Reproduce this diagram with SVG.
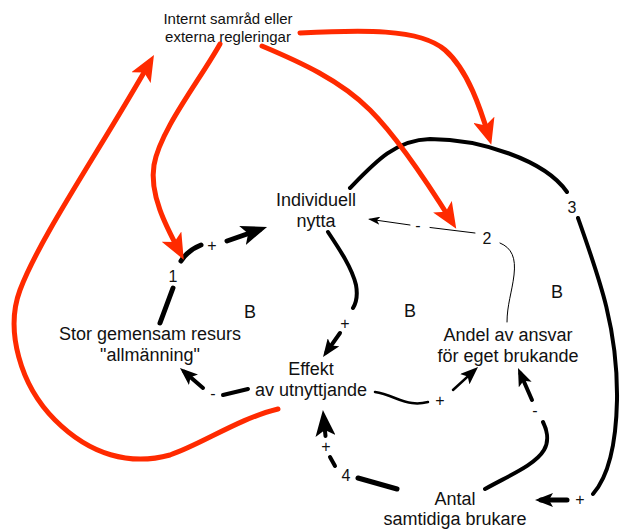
<svg xmlns="http://www.w3.org/2000/svg" width="620" height="530" viewBox="0 0 620 530">
<defs>
<style>
text{font-family:"Liberation Sans",Arial,Helvetica,sans-serif;fill:#111;text-anchor:middle}
.node text{font-size:18px}
.hdr text{font-size:15px}
.lbl{font-size:16px}
.b{font-size:18px}
.k{fill:none;stroke:#000;stroke-linecap:round}
.w5{stroke-width:5}
.w4{stroke-width:4}
.w3{stroke-width:2.5}
.w1{stroke-width:1}
.red{fill:none;stroke:#ff2a00;stroke-width:5;stroke-linecap:round}
</style>
<marker id="ab" markerUnits="userSpaceOnUse" markerWidth="26" markerHeight="20" viewBox="0 0 26 20" refX="18" refY="10" orient="auto"><path d="M0,0 L26,10 L0,20 L6,10 z" fill="#000"/></marker>
<marker id="am" markerUnits="userSpaceOnUse" markerWidth="18" markerHeight="14" viewBox="0 0 18 14" refX="12" refY="7" orient="auto"><path d="M0,0 L18,7 L0,14 L4,7 z" fill="#000"/></marker>
<marker id="as" markerUnits="userSpaceOnUse" markerWidth="12" markerHeight="8" viewBox="0 0 12 8" refX="10" refY="4" orient="auto"><path d="M0,0 L12,4 L0,8 L3,4 z" fill="#000"/></marker>
<marker id="ar" markerUnits="userSpaceOnUse" markerWidth="26" markerHeight="22" viewBox="0 0 26 22" refX="18" refY="11" orient="auto"><path d="M0,0 L26,11 L0,22 L6,11 z" fill="#ff2a00"/></marker>
</defs>
<rect width="620" height="530" fill="#fff"/>

<g id="connectors">
<!-- loop 1: Stor -> Individuell -->
<path class="k w5" d="M160,323 L173,288"/>
<path class="k w5" d="M181,261 Q188,250 201,245"/>
<path class="k w5" d="M227,241 L259.5,229.6" marker-end="url(#ab)"/>
<!-- Individuell -> Effekt -->
<path class="k w4" d="M328,232 C340,250 352,268 356,285 C358,296 356,303 353,308"/>
<path class="k w4" d="M340,333 L326.5,352.1" marker-end="url(#am)"/>
<!-- Effekt -> Stor -->
<path class="k w4" d="M248,389 L223,395"/>
<path class="k w4" d="M203,388 L184.5,371.9" marker-end="url(#am)"/>
<!-- Effekt -> Andel -->
<path class="k w3" d="M375,392 C390,394 400,402 412,403 C418,404 424,403 428,402"/>
<path class="k w3" d="M453,390 L473.6,371.1" marker-end="url(#am)"/>
<!-- Antal -> Effekt -->
<path class="k w5" d="M397,489 L358,478"/>
<path class="k w4" d="M335,466 L330,457"/>
<path class="k w4" d="M325.5,436 L323.7,418" marker-end="url(#ab)"/>
<!-- Antal -> Andel -->
<path class="k w4" d="M485,489 C510,475 535,465 544,450 C550,440 546,428 543,422"/>
<path class="k w4" d="M532,400 L520.4,373.5" marker-end="url(#am)"/>
<!-- loop 3: Individuell -> Antal -->
<path class="k w4" d="M350,188 C375,162 395,140 430,139 C480,139 545,160 567,192"/>
<path class="k w4" d="M578,218 C600,280 618,330 617,400 C616,450 607,478 593,494"/>
<path class="k w5" d="M567,500 L541,500" marker-end="url(#am)"/>
<!-- 2 -> Individuell -->
<path class="k w1" d="M475,233 L430,227.5"/>
<path class="k w1" d="M410,225 L370,219.3" marker-end="url(#as)"/>
<!-- 2 -> Andel -->
<path class="k w1" d="M500,243 C512,248 516,258 514,275 C512,292 507,305 507,322"/>
<!-- red -->
<path class="red" d="M220,44 C200,80 160,130 154,165 C149,195 167,228 180,252.6" marker-end="url(#ar)"/>
<path class="red" d="M262,46 C300,62 340,80 370,110 C400,140 432,190 452,222" marker-end="url(#ar)"/>
<path class="red" d="M300,33 C360,30 420,28 445,50 C468,70 481,110 489,137" marker-end="url(#ar)"/>
<path class="red" d="M278,409 C240,418 200,445 170,455 C130,466 90,455 55,420 C20,385 5,330 20,290 C40,237 100,150 150,62" marker-end="url(#ar)"/>
<!-- link labels -->
<text class="lbl" x="173" y="282">1</text>
<text class="lbl" x="487" y="244">2</text>
<text class="lbl" x="572" y="213">3</text>
<text class="lbl" x="346" y="481">4</text>
<text class="lbl" x="212" y="250.5">+</text>
<text class="lbl" x="345" y="328.5">+</text>
<text class="lbl" x="440" y="405.5">+</text>
<text class="lbl" x="326" y="451.5">+</text>
<text class="lbl" x="580" y="504.5">+</text>
<text class="lbl" x="213" y="399.4">-</text>
<text class="lbl" x="535" y="416.4">-</text>
<text class="lbl" x="418" y="231.4">-</text>
</g>

<g id="loop-labels">
<text class="b" x="250" y="318">B</text>
<text class="b" x="410" y="317">B</text>
<text class="b" x="557" y="298">B</text>
</g>

<g id="n-header" class="hdr">
<text x="228" y="24">Internt samråd eller</text>
<text x="228" y="42">externa regleringar</text>
</g>
<g id="n-individuell" class="node">
<text x="316" y="206">Individuell</text>
<text x="316" y="227">nytta</text>
</g>
<g id="n-stor" class="node">
<text x="150" y="340">Stor gemensam resurs</text>
<text x="150" y="361">"allmänning"</text>
</g>
<g id="n-effekt" class="node">
<text x="311" y="375">Effekt</text>
<text x="311" y="396">av utnyttjande</text>
</g>
<g id="n-andel" class="node">
<text x="508" y="341">Andel av ansvar</text>
<text x="508" y="362">för eget brukande</text>
</g>
<g id="n-antal" class="node">
<text x="455" y="505">Antal</text>
<text x="455" y="525">samtidiga brukare</text>
</g>
</svg>
